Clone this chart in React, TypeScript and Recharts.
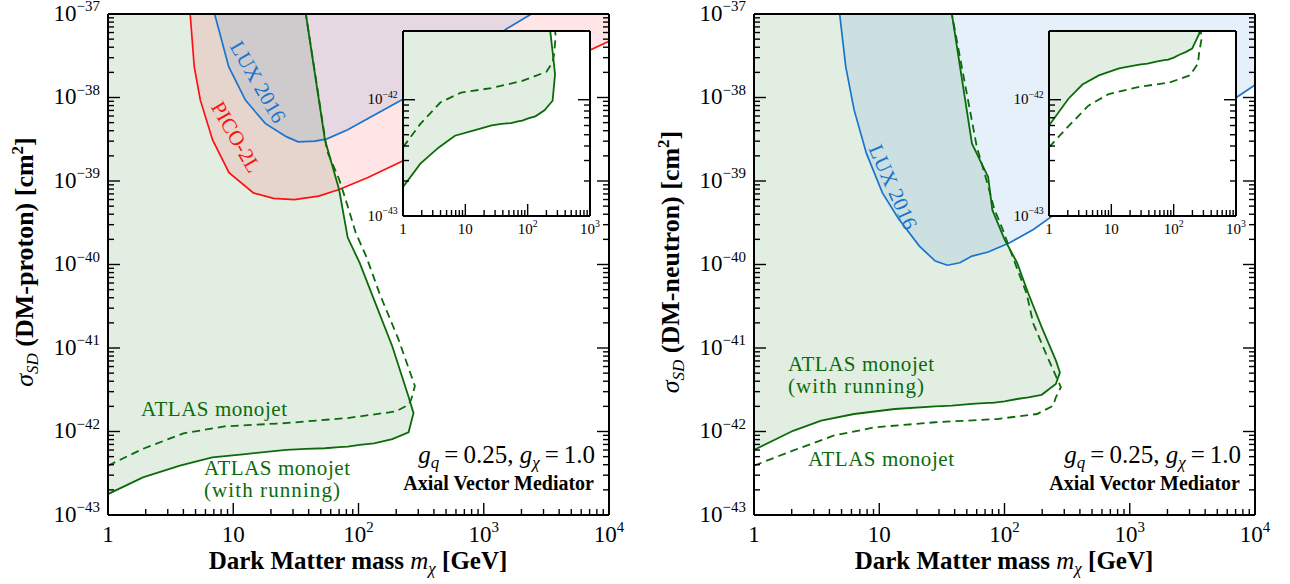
import React from 'react';
import { ComposedChart, Area, Line, XAxis, YAxis } from 'recharts';

const SIGMA_TOP = 1e-37;
const SIGMA_BOTTOM = 1e-43;
const INSET_TOP = 3.9e-42;

// ---------- DM-proton panel ----------
// ATLAS monojet (with running): lower edge and steep right edge of the excluded region
const protonMonojetMass = [1, 1.9, 3.75, 6.8, 12.5, 26.5, 38, 54, 70, 82, 102, 133, 186, 251, 275];
const protonMonojetLow = [1.78e-43, 2.82e-43, 3.89e-43, 4.9e-43, 5.37e-43, 6.03e-43, 6.2e-43, 6.3e-43, 6.5e-43, 6.6e-43, 6.9e-43, 7.2e-43, 8.1e-43, 9.8e-43, 1.66e-42];
const protonMonojetHigh = [1e-37, 1e-37, 1e-37, 1e-37, 1e-37, 1e-37, 1e-37, 3.1e-39, 7.9e-40, 2.1e-40, 1.05e-40, 3.8e-41, 1.05e-41, 2.6e-42, 1.66e-42];

// ATLAS monojet (no running), dashed
const protonDashedMass = [1, 1.9, 4, 8.5, 26, 82, 200, 251, 263, 282, 209, 148, 115, 95, 82, 70, 56, 38];
const protonDashedSigma = [3.9e-43, 6.2e-43, 9.5e-43, 1.15e-42, 1.26e-42, 1.45e-42, 1.74e-42, 2.1e-42, 2.4e-42, 3.5e-42, 1.26e-41, 4.4e-41, 1.26e-40, 2.4e-40, 5e-40, 1.05e-39, 2.3e-39, 1e-37];

const picoMass = [4.53, 4.88, 5.46, 6.84, 9.25, 14.5, 21, 30.7, 48, 70, 119, 225, 7080, 10000];
const picoSigma = [1e-37, 2.34e-38, 9.3e-39, 3.1e-39, 1.26e-39, 7.2e-40, 6.2e-40, 6.0e-40, 6.6e-40, 7.9e-40, 1.1e-39, 1.74e-39, 3.7e-38, 4.7e-38];

const luxProtonMass = [7.1, 9.2, 12.5, 18, 26.5, 33, 45, 56, 82, 226, 1514, 2400];
const luxProtonSigma = [1e-37, 2.34e-38, 9.3e-39, 4.9e-39, 3.4e-39, 2.95e-39, 3.0e-39, 3.2e-39, 4.1e-39, 9.5e-39, 6.6e-38, 1e-37];

// ---------- DM-neutron panel ----------
const neutronMonojetMass = [1, 2.05, 3.44, 6.3, 13.3, 28, 38, 55, 74, 80, 100, 126, 155, 198, 257, 277];
const neutronMonojetLow = [6.0e-43, 1.02e-42, 1.35e-42, 1.62e-42, 1.86e-42, 2.0e-42, 2.04e-42, 2.14e-42, 2.2e-42, 2.2e-42, 2.3e-42, 2.45e-42, 2.57e-42, 2.75e-42, 3.7e-42, 5.1e-42];
const neutronMonojetHigh = [1e-37, 1e-37, 1e-37, 1e-37, 1e-37, 1e-37, 1e-37, 2.8e-39, 1.12e-39, 4.5e-40, 2.0e-40, 1.05e-40, 4.5e-41, 1.78e-41, 7.1e-42, 5.1e-42];

const neutronDashedMass = [1, 2.04, 4.3, 9.1, 28, 87, 182, 245, 257, 282, 220, 170, 150, 121, 97, 83, 74, 60, 38];
const neutronDashedSigma = [3.9e-43, 5.9e-43, 8.9e-43, 1.12e-42, 1.29e-42, 1.41e-42, 1.62e-42, 2.04e-42, 2.57e-42, 3.4e-42, 7.8e-42, 1.95e-41, 4.5e-41, 1.05e-40, 2.6e-40, 4.6e-40, 8.7e-40, 2.6e-39, 1e-37];

const luxNeutronMass = [4.83, 5.4, 6.3, 7.9, 10.6, 14.3, 20.9, 28, 35, 44, 55, 74, 110, 170, 240, 7240, 10000];
const luxNeutronSigma = [1e-37, 2.34e-38, 7.1e-39, 2.14e-39, 7.2e-40, 3.5e-40, 1.66e-40, 1.1e-40, 9.8e-41, 1.05e-40, 1.26e-40, 1.41e-40, 1.82e-40, 2.63e-40, 3.8e-40, 1.02e-38, 1.41e-38];

const GREEN = '#0b6b0b';
const RED = '#ff1010';
const BLUE = '#1874cd';
const FONT = '"Liberation Serif", "Times New Roman", serif';

const toPoints = (mass: number[], sigma: number[]) => mass.map((m, i) => ({ m, s: sigma[i] }));
const toBandAbove = (mass: number[], sigma: number[]) => mass.map((m, i) => ({ m, band: [sigma[i], SIGMA_TOP] }));
const toBand = (mass: number[], low: number[], high: number[]) => mass.map((m, i) => ({ m, band: [low[i], high[i]] }));
const toOutline = (mass: number[], low: number[], high: number[]) => {
    const lower = toPoints(mass, low);
    const start = high.findIndex((h) => h < SIGMA_TOP) - 1;
    const upper = toPoints(mass, high).slice(start).reverse();
    return [...lower, ...upper];
};

const logTicks = (lo: number, hi: number, max?: number) => {
    const t: number[] = [];
    for (let e = lo; e < hi; e++) for (let k = 1; k < 10; k++) t.push(k * Math.pow(10, e));
    t.push(Math.pow(10, hi));
    return max ? t.filter((v) => v <= max * 1.0001) : t;
};

const isMajor = (v: number) => {
    const l = Math.log10(v);
    return Math.abs(l - Math.round(l)) < 1e-6;
};

type TickOpts = { side: 'bottom' | 'top' | 'left' | 'right'; len: number; labels?: boolean; font?: number };

const makeTick = ({ side, len, labels, font = 23 }: TickOpts) => (props: any) => {
    const { x, y, payload } = props;
    const v = payload.value;
    const major = isMajor(v);
    const l = major ? len : len / 2;
    let line;
    if (side === 'bottom') line = <line x1={x} y1={y} x2={x} y2={y - l} />;
    else if (side === 'top') line = <line x1={x} y1={y} x2={x} y2={y + l} />;
    else if (side === 'left') line = <line x1={x} y1={y} x2={x + l} y2={y} />;
    else line = <line x1={x} y1={y} x2={x - l} y2={y} />;
    const e = Math.round(Math.log10(v));
    const sup = font * 0.65;
    let label = null;
    if (labels && major) {
        if (side === 'bottom') {
            label = (
                <text x={x} y={y + font * 1.17} textAnchor="middle" fontSize={font} fill="#000" stroke="none" fontFamily={FONT}>
                    {e === 0 ? '1' : '10'}
                    {e > 1 && <tspan dy={-font * 0.42} fontSize={sup}>{e}</tspan>}
                </text>
            );
        } else if (side === 'left') {
            label = (
                <text x={x - font * 0.35} y={y + font * 0.3} textAnchor="end" fontSize={font} fill="#000" stroke="none" fontFamily={FONT}>
                    10
                    <tspan dy={-font * 0.42} fontSize={sup}>{'\u2212' + Math.abs(e)}</tspan>
                </text>
            );
        }
    }
    return (
        <g stroke="#000" strokeWidth={1.4}>
            {line}
            {label}
        </g>
    );
};

const frameLine = { stroke: '#000', strokeWidth: 2 };

type Experiment = { mass: number[]; sigma: number[]; color: string };

type PanelProps = {
    width: number;
    height: number;
    margin: { top: number; right: number; bottom: number; left: number };
    xDomain: [number, number];
    yDomain: [number, number];
    inset?: boolean;
    monojetMass: number[];
    monojetLow: number[];
    monojetHigh: number[];
    dashedMass: number[];
    dashedSigma: number[];
    experiments: Experiment[];
};

function PanelChart(p: PanelProps) {
    const xTicks = p.inset ? logTicks(0, 3) : logTicks(0, 4);
    const yTicks = p.inset ? logTicks(-43, -42, INSET_TOP) : logTicks(-43, -37);
    const len = 12;
    const font = p.inset ? 15 : 23;
    const axisCommon = {
        type: 'number' as const,
        scale: 'log' as const,
        allowDataOverflow: true,
        interval: 0 as const,
        tickLine: false,
        tickSize: 0,
        tickMargin: 0,
        axisLine: frameLine,
    };
    return (
        <ComposedChart width={p.width} height={p.height} margin={p.margin}>
            <XAxis {...axisCommon} dataKey="m" domain={p.xDomain} ticks={xTicks} height={1}
                tick={makeTick({ side: 'bottom', len, labels: true, font })} />
            <XAxis {...axisCommon} xAxisId="top" orientation="top" domain={p.xDomain} ticks={xTicks} height={1}
                tick={makeTick({ side: 'top', len })} />
            <YAxis {...axisCommon} domain={p.yDomain} ticks={yTicks} width={1}
                tick={makeTick({ side: 'left', len, labels: true, font })} />
            <YAxis {...axisCommon} yAxisId="right" orientation="right" domain={p.yDomain} ticks={yTicks} width={1}
                tick={makeTick({ side: 'right', len })} />

            <Area data={toBand(p.monojetMass, p.monojetLow, p.monojetHigh)} dataKey="band" type="linear"
                stroke="none" fill="#006400" fillOpacity={0.11} isAnimationActive={false} dot={false} activeDot={false} />
            {p.experiments.map((ex, i) => (
                <Area key={'a' + i} data={toBandAbove(ex.mass, ex.sigma)} dataKey="band" type="linear"
                    stroke="none" fill={ex.color} fillOpacity={0.11} isAnimationActive={false} dot={false} activeDot={false} />
            ))}
            {p.experiments.map((ex, i) => (
                <Line key={'l' + i} data={toPoints(ex.mass, ex.sigma)} dataKey="s" type="linear"
                    stroke={ex.color} strokeWidth={1.7} dot={false} activeDot={false} isAnimationActive={false} />
            ))}
            <Line data={toOutline(p.monojetMass, p.monojetLow, p.monojetHigh)} dataKey="s" type="linear"
                stroke={GREEN} strokeWidth={1.8} dot={false} activeDot={false} isAnimationActive={false} />
            <Line data={toPoints(p.dashedMass, p.dashedSigma)} dataKey="s" type="linear"
                stroke={GREEN} strokeWidth={1.8} strokeDasharray="8 5" dot={false} activeDot={false} isAnimationActive={false} />
        </ComposedChart>
    );
}

type SideProps = {
    offset: number;
    monojetMass: number[];
    monojetLow: number[];
    monojetHigh: number[];
    dashedMass: number[];
    dashedSigma: number[];
    experiments: Experiment[];
};

function Side({ offset, ...rest }: SideProps) {
    return (
        <>
            <div style={{ position: 'absolute', left: offset, top: 0 }}>
                <PanelChart {...rest} width={640} height={584}
                    margin={{ top: 13, right: 30, bottom: 68, left: 107 }}
                    xDomain={[1, 1e4]} yDomain={[SIGMA_BOTTOM, SIGMA_TOP]} />
            </div>
            <div style={{ position: 'absolute', left: offset + 403, top: 31, width: 187, height: 185, background: '#fff' }} />
            <div style={{ position: 'absolute', left: offset + 353, top: 16 }}>
                <PanelChart {...rest} inset width={257} height={230}
                    margin={{ top: 14, right: 19, bottom: 29, left: 49 }}
                    xDomain={[1, 1e3]} yDomain={[SIGMA_BOTTOM, INSET_TOP]} experiments={[]} />
            </div>
        </>
    );
}

function Titles({ offset, target }: { offset: number; target: string }) {
    return (
        <g transform={`translate(${offset},0)`} fontFamily={FONT}>
            <text transform="translate(33,262) rotate(-90)" textAnchor="middle" fontSize={26}>
                <tspan fontStyle="italic">σ</tspan>
                <tspan fontStyle="italic" fontSize={17} dy={5}>SD</tspan>
                <tspan dy={-5} fontWeight="bold">{` (DM-${target}) [cm`}</tspan>
                <tspan fontWeight="bold" fontSize={17} dy={-10}>2</tspan>
                <tspan fontWeight="bold" dy={10}>]</tspan>
            </text>
            <text x={358} y={569} textAnchor="middle" fontSize={25}>
                <tspan fontWeight="bold">Dark Matter mass </tspan>
                <tspan fontStyle="italic">m</tspan>
                <tspan fontStyle="italic" fontSize={17} dy={5}>χ</tspan>
                <tspan dy={-5} fontWeight="bold"> [GeV]</tspan>
            </text>
            <text x={595} y={463} textAnchor="end" fontSize={25}>
                <tspan fontStyle="italic">g</tspan>
                <tspan fontStyle="italic" fontSize={17} dy={5}>q</tspan>
                <tspan dy={-5}>{'\u2009=\u20090.25, '}</tspan>
                <tspan fontStyle="italic">g</tspan>
                <tspan fontStyle="italic" fontSize={17} dy={5}>χ</tspan>
                <tspan dy={-5}>{'\u2009=\u20091.0'}</tspan>
            </text>
            <text x={594} y={490} textAnchor="end" fontSize={20} fontWeight="bold">Axial Vector Mediator</text>
        </g>
    );
}

export default function App() {
    return (
        <div style={{ position: 'absolute', left: 0, top: 0, width: 1290, height: 584, background: '#fff', fontFamily: FONT }}>
            <Side offset={0}
                monojetMass={protonMonojetMass} monojetLow={protonMonojetLow} monojetHigh={protonMonojetHigh}
                dashedMass={protonDashedMass} dashedSigma={protonDashedSigma}
                experiments={[
                    { mass: picoMass, sigma: picoSigma, color: RED },
                    { mass: luxProtonMass, sigma: luxProtonSigma, color: BLUE },
                ]} />
            <Side offset={646}
                monojetMass={neutronMonojetMass} monojetLow={neutronMonojetLow} monojetHigh={neutronMonojetHigh}
                dashedMass={neutronDashedMass} dashedSigma={neutronDashedSigma}
                experiments={[{ mass: luxNeutronMass, sigma: luxNeutronSigma, color: BLUE }]} />
            <svg width={1290} height={584} style={{ position: 'absolute', left: 0, top: 0, pointerEvents: 'none' }}>
                <Titles offset={0} target="proton" />
                <Titles offset={646} target="neutron" />
                <g fontFamily={FONT} fontSize={21}>
                    <text transform="translate(258,82) rotate(60)" textAnchor="middle" dominantBaseline="central" fill={BLUE}>LUX 2016</text>
                    <text transform="translate(236,137) rotate(60)" textAnchor="middle" dominantBaseline="central" fill={RED}>PICO-2L</text>
                    <text transform="translate(893,187) rotate(66)" textAnchor="middle" dominantBaseline="central" fill={BLUE}>LUX 2016</text>
                    <text x={141} y={416} fill={GREEN} textLength={146}>ATLAS monojet</text>
                    <text x={204} y={475} fill={GREEN} textLength={146}>ATLAS monojet</text>
                    <text x={204} y={497} fill={GREEN} textLength={136}>(with running)</text>
                    <text x={788} y={371} fill={GREEN} textLength={146}>ATLAS monojet</text>
                    <text x={788} y={393} fill={GREEN} textLength={136}>(with running)</text>
                    <text x={808} y={466} fill={GREEN} textLength={146}>ATLAS monojet</text>
                </g>
            </svg>
        </div>
    );
}
